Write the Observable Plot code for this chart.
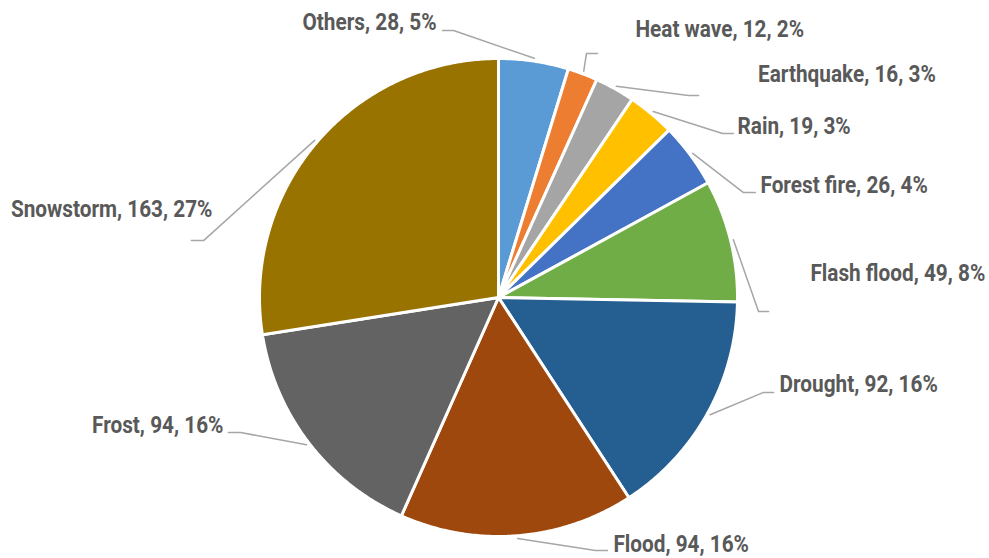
<!DOCTYPE html>
<html>
<head>
<meta charset="utf-8">
<script src="https://cdn.jsdelivr.net/npm/d3@7"></script>
<script src="https://cdn.jsdelivr.net/npm/@observablehq/plot@0.6"></script>
<style>
  html, body { margin: 0; padding: 0; background: #fff; }
  #chart svg { display: block; }
</style>
</head>
<body>
<div id="chart"></div>
<script>
// ---- data ----
const categories = ["Others", "Heat wave", "Earthquake", "Rain", "Forest fire", "Flash flood", "Drought", "Flood", "Frost", "Snowstorm"];
const counts = [28, 12, 16, 19, 26, 49, 92, 94, 94, 163];
const percentLabels = ["5%", "2%", "3%", "3%", "4%", "8%", "16%", "16%", "16%", "27%"];
const colors = ["#5B9BD5", "#ED7D31", "#A5A5A5", "#FFC000", "#4472C4", "#70AD47", "#255E91", "#9E480E", "#636363", "#997300"];

// ---- label layout (in pie-radius units, pie centre = 0,0) ----
// [elbowX, elbowY, tailX, labelX, labelY, side]
const labelLayout = [
  [-0.188, 1.117, -0.234, -0.259, 1.121, "left"],
  [0.368, 1.021, 0.414, 0.573, 1.088, "right"],
  [0.795, 0.845, 0.837, 1.086, 0.900, "right"],
  [0.937, 0.686, 0.983, 1.000, 0.686, "right"],
  [1.025, 0.439, 1.075, 1.096, 0.439, "right"],
  [1.088, -0.059, 1.130, 1.305, 0.067, "right"],
  [1.109, -0.397, 1.151, 1.176, -0.397, "right"],
  [0.406, -1.059, 0.456, 0.481, -1.063, "right"],
  [-1.079, -0.565, -1.130, -1.151, -0.569, "left"],
  [-1.234, 0.238, -1.285, -1.197, 0.335, "left"]
];

// ---- geometry frame ----
const W = 989, H = 558, RPX = 239, CX = 498, CY = 297;
const SQUEEZE = 0.865; // horizontal condensing of label text
const total = d3.sum(counts);

const slices = [];
let acc = 0;
categories.forEach((name, i) => {
  const a0 = acc / total * 2 * Math.PI;
  acc += counts[i];
  const a1 = acc / total * 2 * Math.PI;
  slices.push({name, a0, a1, mid: (a0 + a1) / 2, i});
});

const polar = (a, r) => [r * Math.sin(a), r * Math.cos(a)];

const slicePts = [];
for (const s of slices) {
  slicePts.push({name: s.name, x: 0, y: 0});
  const n = Math.max(2, Math.ceil((s.a1 - s.a0) / (Math.PI / 360)));
  for (let k = 0; k <= n; k++) {
    const a = s.a0 + (s.a1 - s.a0) * k / n;
    const [x, y] = polar(a, 1);
    slicePts.push({name: s.name, x, y});
  }
}

const leaderPts = [];
const labels = [];
slices.forEach((s, i) => {
  const [ex, ey, tx, lx, ly, side] = labelLayout[i];
  const [sx, sy] = polar(s.mid, 1.012);
  leaderPts.push({name: s.name, x: sx, y: sy});
  leaderPts.push({name: s.name, x: ex, y: ey});
  leaderPts.push({name: s.name, x: tx, y: ey});
  labels.push({text: `${s.name}, ${counts[i]}, ${percentLabels[i]}`, x: lx, y: ly, side});
});

const fontFamily = "Roboto, 'DejaVu Sans Condensed', sans-serif";

const plot = Plot.plot({
  width: W,
  height: H,
  marginTop: 0, marginRight: 0, marginBottom: 0, marginLeft: 0,
  x: {domain: [-CX / RPX, (W - CX) / RPX], axis: null},
  y: {domain: [-(H - CY) / RPX, CY / RPX], axis: null},
  color: {domain: categories, range: colors},
  style: {background: "#fff", fontFamily},
  marks: [
    Plot.line(slicePts, {x: "x", y: "y", z: "name", fill: "name", stroke: "white", strokeWidth: 3, strokeLinejoin: "round", curve: "linear-closed"}),
    Plot.line(leaderPts, {x: "x", y: "y", z: "name", stroke: "#A6A6A6", strokeWidth: 1.5}),
    Plot.text(labels.filter(d => d.side === "right"), {x: "x", y: "y", text: "text", textAnchor: "start", lineAnchor: "bottom", fill: "#595959", fontSize: 24, fontWeight: "bold", fontFamily, className: "pie-label"}),
    Plot.text(labels.filter(d => d.side === "left"), {x: "x", y: "y", text: "text", textAnchor: "end", lineAnchor: "bottom", fill: "#595959", fontSize: 24, fontWeight: "bold", fontFamily, className: "pie-label"})
  ]
});
document.getElementById("chart").appendChild(plot);

// condense label glyphs (the reference uses a condensed face)
plot.querySelectorAll("g.pie-label text, .pie-label text").forEach(t => {
  const w = t.getComputedTextLength();
  t.setAttribute("textLength", (w * SQUEEZE).toFixed(1));
  t.setAttribute("lengthAdjust", "spacingAndGlyphs");
});
</script>
</body>
</html>
